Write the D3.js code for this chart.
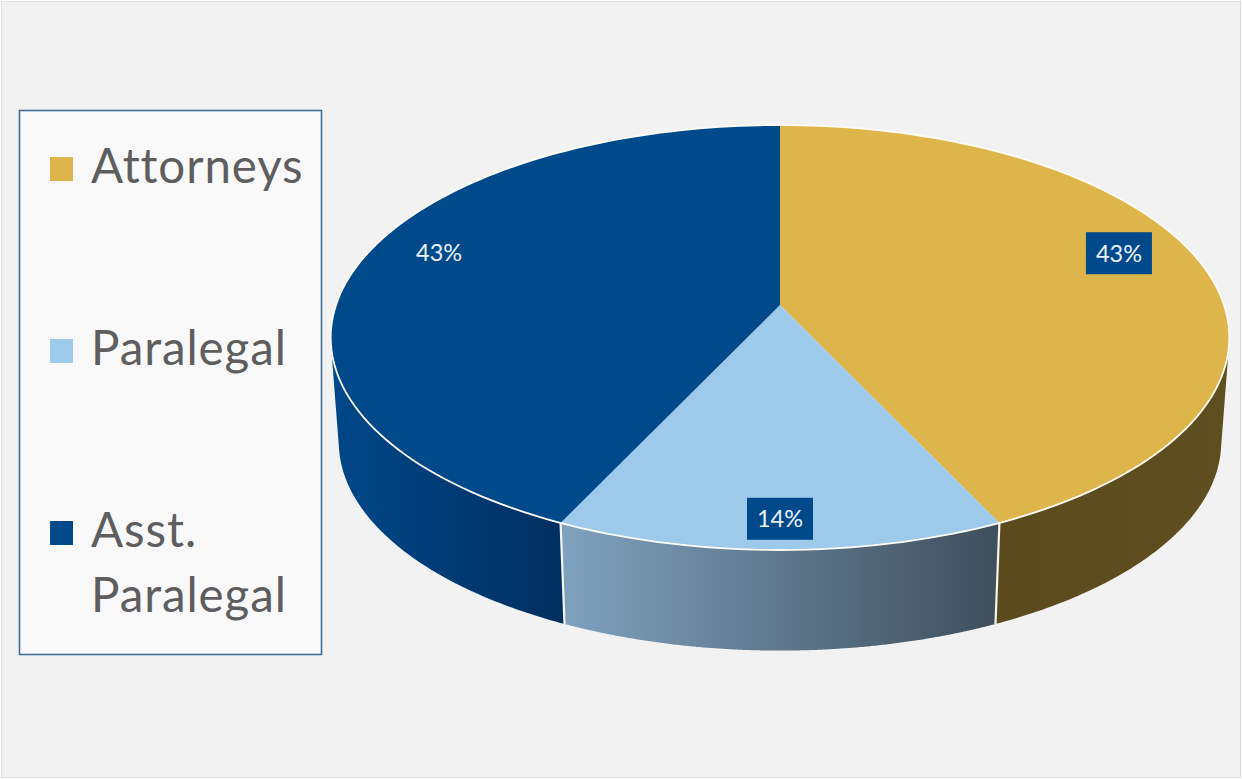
<!DOCTYPE html>
<html>
<head>
<meta charset="utf-8">
<title>Staff mix</title>
<script src="https://cdn.jsdelivr.net/npm/d3@7/dist/d3.min.js"></script>
<style>
  html, body { margin: 0; padding: 0; background: #fff; }
  svg { display: block; }
  text { font-family: Lato, "Open Sans", sans-serif; }
</style>
</head>
<body>
<svg id="chart" width="1242" height="779"></svg>
<script>
// Chart values
const categories = ["Attorneys", "Paralegal", "Asst. Paralegal"];
const shares = [43, 14, 43];
const topColors = ["#DDB54A", "#9DC9EA", "#004A8C"];
// Side wall shading, left to right
const sideLeftColors = ["#5B4A1C", "#7FA2BF", "#00488A"];
const sideRightColors = ["#5F4F20", "#3E4E5B", "#002F60"];

// Layout of the tilted disc
const W = 1242, H = 779;
const cx = 780, cy = 305;       // disc centre on screen
const radiusX = 444;            // horizontal reach of the disc
const radiusY = 207.5;          // vertical reach before perspective
const tilt = 0.153;             // perspective strength toward the viewer
const wallDepth = 105;          // screen height of the side wall
const wallShrink = 0.982;       // the lower rim is slightly smaller

// Where each percentage label sits on the disc
const labelRadius = [0.835, 0.89, 0.84];
const labelNudge = [-5.5, 0, 5.5];

const svg = d3.select("#chart");
const defs = svg.append("defs");

// Unit-disc coordinates to screen, with simple perspective
function upperRim(angle, r = 1) {
  const x = r * Math.sin(angle), y = -r * Math.cos(angle);
  const w = 1 - tilt * y;
  return [cx + radiusX * x / w, cy + radiusY * y / w];
}
function lowerRim(angle) {
  const [x, y] = upperRim(angle);
  return [cx + (x - cx) * wallShrink, cy + (y - cy) * wallShrink + wallDepth];
}

const pie = d3.pie().sort(null).value(d => d).startAngle(0).endAngle(2 * Math.PI);
const arcs = pie(shares);
const line = d3.line();
const rimSamples = (a, b) => d3.range(0, 241).map(i => a + (b - a) * i / 240);

// True when the wall at this angle faces the viewer
function facesFront(a) {
  const p = upperRim(a), q = upperRim(a + 0.001), l = lowerRim(a);
  return (q[0] - p[0]) * (l[1] - p[1]) - (q[1] - p[1]) * (l[0] - p[0]) < 0;
}

// Page background and thin outer frame
svg.append("rect").attr("width", W).attr("height", H).attr("fill", "#ffffff");
svg.append("rect").attr("x", 1.5).attr("y", 1.5).attr("width", W - 3).attr("height", H - 3)
  .attr("fill", "#F2F2F2").attr("stroke", "#DDDDDD");

const walls = arcs.map(d => rimSamples(d.startAngle, d.endAngle).filter(facesFront));

// Side wall gradients run across the screen
walls.forEach((as, i) => {
  const xs = as.map(a => upperRim(a)[0]);
  const g = defs.append("linearGradient")
    .attr("id", "wall" + i)
    .attr("gradientUnits", "userSpaceOnUse")
    .attr("x1", d3.min(xs)).attr("x2", d3.max(xs)).attr("y1", 0).attr("y2", 0);
  g.append("stop").attr("offset", 0).attr("stop-color", sideLeftColors[i]);
  g.append("stop").attr("offset", 1).attr("stop-color", sideRightColors[i]);
});

// Side walls go underneath the top faces
const disc = svg.append("g");
disc.selectAll("path.wall").data(walls).join("path")
  .attr("class", "wall")
  .attr("fill", (d, i) => `url(#wall${i})`)
  .attr("d", as => line([...as.map(a => upperRim(a)), ...as.slice().reverse().map(a => lowerRim(a))]) + "Z");

// White seams between the visible wall panels
arcs.slice(0, 2).forEach(d => {
  disc.append("path")
    .attr("d", line([upperRim(d.endAngle), lowerRim(d.endAngle)]))
    .attr("stroke", "#F4F4F0").attr("stroke-width", 2.2).attr("fill", "none");
});

// Top faces
disc.selectAll("path.face").data(arcs).join("path")
  .attr("class", "face")
  .attr("fill", (d, i) => topColors[i])
  .attr("d", d => line([[cx, cy], ...rimSamples(d.startAngle, d.endAngle).map(a => upperRim(a))]) + "Z");

// Bright rim around the top face
disc.append("path")
  .attr("d", line(rimSamples(0, 2 * Math.PI).map(a => upperRim(a))) + "Z")
  .attr("fill", "none").attr("stroke", "#FBFBF4").attr("stroke-width", 1.8);

// Percentage labels; two of them sit on a dark tag
const labels = svg.append("g");
arcs.forEach((d, i) => {
  const mid = (d.startAngle + d.endAngle) / 2 + labelNudge[i] * Math.PI / 180;
  const [x, y] = upperRim(mid, labelRadius[i]);
  if (i < 2) {
    labels.append("rect")
      .attr("x", x - 33).attr("y", y - 21)
      .attr("width", 66).attr("height", 42)
      .attr("fill", topColors[2]);
  }
  labels.append("text")
    .attr("x", x).attr("y", y)
    .attr("dy", "0.36em")
    .attr("text-anchor", "middle")
    .attr("font-size", 23.5)
    .attr("fill", "#E6F0F8")
    .text(d3.format(".0f")(d.data) + "%");
});

// Legend
const legend = svg.append("g");
legend.append("rect")
  .attr("x", 19.5).attr("y", 110.5).attr("width", 302).attr("height", 544)
  .attr("fill", "#F9F9FA").attr("stroke", "#3F7098").attr("stroke-width", 1.6);

const legendY = d3.scalePoint().domain(categories).range([183, 547]);
categories.forEach((name, i) => {
  const base = legendY(name);
  legend.append("rect")
    .attr("x", 50).attr("y", base - 26).attr("width", 23).attr("height", 24)
    .attr("fill", topColors[i]);
  const words = name === "Asst. Paralegal" ? name.split(" ") : [name];
  words.forEach((w, j) => {
    legend.append("text")
      .attr("x", 91).attr("y", base + j * 65)
      .attr("font-size", 47.5)
      .attr("letter-spacing", 0.9)
      .attr("fill", "#5E5E5E")
      .text(w);
  });
});
</script>
</body>
</html>
